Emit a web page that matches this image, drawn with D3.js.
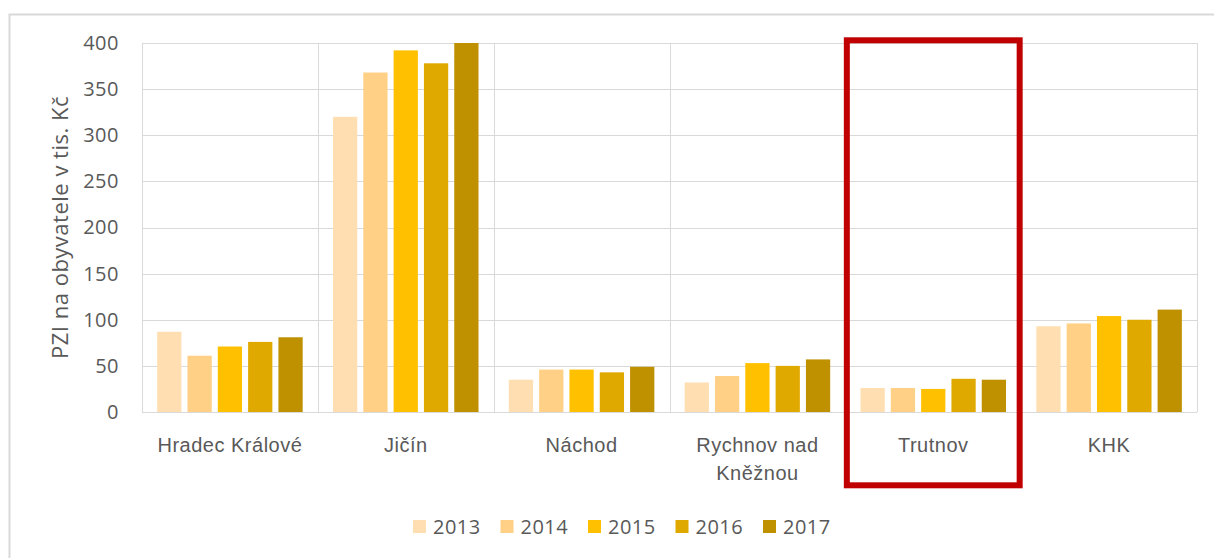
<!DOCTYPE html>
<html>
<head>
<meta charset="utf-8">
<script src="https://cdn.jsdelivr.net/npm/d3@7"></script>
<style>
  body { margin: 0; background: #fff; }
  svg { display: block; font-family: "Open Sans", sans-serif; }
</style>
</head>
<body>
<svg id="chart" width="1214" height="558"></svg>
<script>
// Data
const districts = ["Hradec Králové", "Jičín", "Náchod", "Rychnov nad Kněžnou", "Trutnov", "KHK"];
const years = ["2013", "2014", "2015", "2016", "2017"];
const v2013 = [87, 320, 35, 32, 26, 93];
const v2014 = [61, 368, 46, 39, 26, 96];
const v2015 = [71, 392, 46, 53, 25, 104];
const v2016 = [76, 378, 43, 50, 36, 100];
const v2017 = [81, 400, 49, 57, 35, 111];
const yTicks = [0, 50, 100, 150, 200, 250, 300, 350, 400];
const colors = ["#FFDFB2", "#FFD085", "#FFC000", "#E0A900", "#BF9000"];
const highlighted = "Trutnov";

const series = [v2013, v2014, v2015, v2016, v2017];

const svg = d3.select("#chart");
const margin = { top: 43, right: 17, bottom: 146, left: 142 };
const width = 1214 - margin.left - margin.right;
const height = 558 - margin.top - margin.bottom;
const textColor = "#595959";

// outer chart border (only top/left visible in frame)
svg.append("rect")
  .attr("x", 9.5).attr("y", 14.5)
  .attr("width", 1220).attr("height", 560)
  .attr("fill", "none")
  .attr("stroke", "#D9D9D9")
  .attr("stroke-width", 2);

const g = svg.append("g").attr("transform", `translate(${margin.left},${margin.top})`);

const x0 = d3.scaleBand().domain(districts).range([0, width]).padding(0);
const x1 = d3.scaleBand().domain(years).range([0, x0.bandwidth()])
  .paddingInner(0.2).paddingOuter(0.5);
const y = d3.scaleLinear().domain([0, 400]).range([height, 0]);

// horizontal gridlines
g.append("g")
  .selectAll("line")
  .data(yTicks)
  .enter()
  .append("line")
  .attr("x1", 0).attr("x2", width)
  .attr("y1", d => Math.round(y(d)) + 0.5)
  .attr("y2", d => Math.round(y(d)) + 0.5)
  .attr("stroke", "#D9D9D9")
  .attr("stroke-width", 1);

// vertical category gridlines
g.append("g")
  .selectAll("line")
  .data(districts.concat(["end"]))
  .enter()
  .append("line")
  .attr("x1", (d, i) => Math.round(i * x0.bandwidth()) + 0.5)
  .attr("x2", (d, i) => Math.round(i * x0.bandwidth()) + 0.5)
  .attr("y1", 0).attr("y2", height)
  .attr("stroke", "#D9D9D9")
  .attr("stroke-width", 1);

// bars
const groups = g.selectAll(".grp")
  .data(districts)
  .enter()
  .append("g")
  .attr("class", "grp")
  .attr("transform", d => `translate(${x0(d)},0)`);

groups.selectAll("rect")
  .data((d, i) => years.map((yr, j) => ({ year: yr, value: series[j][i], color: colors[j] })))
  .enter()
  .append("rect")
  .attr("x", d => x1(d.year))
  .attr("y", d => y(d.value))
  .attr("width", x1.bandwidth())
  .attr("height", d => y(0) - y(d.value))
  .attr("fill", d => d.color);

// y axis labels
const yAxis = g.append("g")
  .call(d3.axisLeft(y).tickValues(yTicks).tickSize(0).tickPadding(23));
yAxis.select(".domain").remove();
yAxis.selectAll("text")
  .attr("fill", textColor)
  .style("font-size", "20px")
  .style("letter-spacing", "0.5px")
  .style("font-family", "'Open Sans', sans-serif");

// x axis labels (wrapped like Excel)
const xAxis = g.append("g")
  .attr("transform", `translate(0,${height})`)
  .call(d3.axisBottom(x0).tickSize(0).tickPadding(0));
xAxis.select(".domain").remove();
xAxis.selectAll("text").remove();
xAxis.selectAll(".tick").each(function (d) {
  const lines = d === "Rychnov nad Kněžnou" ? ["Rychnov nad", "Kněžnou"] : [d];
  const t = d3.select(this).append("text")
    .attr("fill", textColor)
    .attr("text-anchor", "middle")
    .style("font-size", "20px")
    .style("letter-spacing", "0.5px");
  lines.forEach((ln, k) => {
    t.append("tspan").attr("x", 0).attr("y", 40 + k * 28).text(ln);
  });
});

// y axis title
svg.append("text")
  .attr("transform", `translate(68,${margin.top + height / 2}) rotate(-90)`)
  .attr("text-anchor", "middle")
  .attr("fill", textColor)
  .style("font-size", "22px")
  .style("letter-spacing", "0.5px")
  .text("PZI na obyvatele v tis. Kč");

// highlight rectangle round the selected district
svg.append("rect")
  .attr("x", margin.left + x0(highlighted) + 1.5)
  .attr("y", 40.3)
  .attr("width", x0.bandwidth() - 3)
  .attr("height", 445)
  .attr("fill", "none")
  .attr("stroke", "#C00000")
  .attr("stroke-width", 6);

// legend
const legend = svg.append("g").attr("transform", "translate(413,520)");
const item = legend.selectAll("g")
  .data(years)
  .enter()
  .append("g")
  .attr("transform", (d, i) => `translate(${i * 87.5},0)`);
item.append("rect")
  .attr("width", 13).attr("height", 13)
  .attr("fill", (d, i) => colors[i]);
item.append("text")
  .attr("x", 20).attr("y", 13.5)
  .attr("fill", textColor)
  .style("font-size", "20px")
  .style("letter-spacing", "0.5px")
  .text(d => d);
</script>
</body>
</html>
